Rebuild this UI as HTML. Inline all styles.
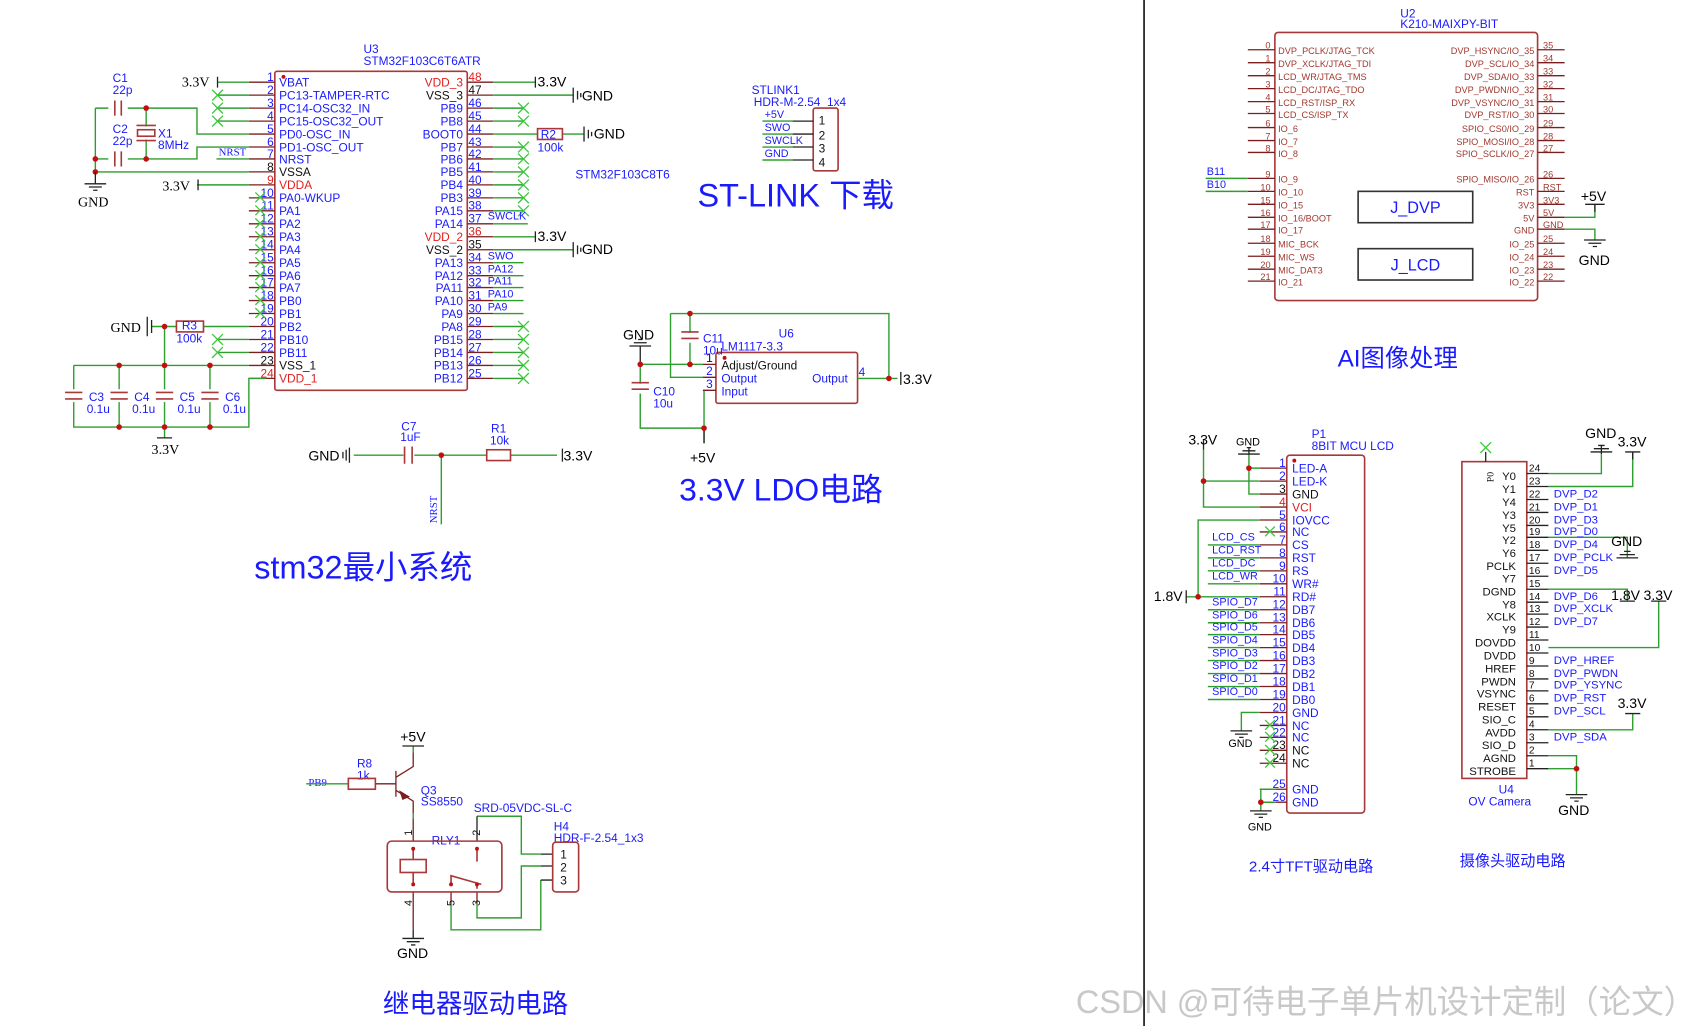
<!DOCTYPE html>
<html><head><meta charset="utf-8"><style>
html,body{margin:0;padding:0;background:#fff;}
svg{display:block;}
text{font-family:"Liberation Sans","Noto Sans CJK SC",sans-serif;}
.s{font-family:"Liberation Serif","Noto Serif CJK SC",serif;}
.w{stroke:#2e9e2e;stroke-width:1.3;fill:none;}
.p{stroke:#7a1f1f;stroke-width:1.2;fill:none;}
.k{stroke:#222;stroke-width:1.2;fill:none;}
.b{stroke:#a8383a;stroke-width:1.5;fill:none;}
.x{stroke:#3cc83c;stroke-width:1.2;fill:none;}
.n{fill:#1a1aff;font-size:11px;}
.nm{fill:#1a1aff;font-size:11px;}
.r{fill:#e02020;}
.bk{fill:#111;}
.kn{fill:#a0392f;font-size:8.5px;}
.d{fill:#c01010;}
</style></head><body>
<svg width="1687" height="1026" viewBox="0 0 1560 949" xmlns="http://www.w3.org/2000/svg">
<rect width="1560" height="949" fill="#fff"/>
<line x1="1058" y1="0" x2="1058" y2="949" stroke="#111" stroke-width="1.5"/>

<!-- ============ STM32 ============ -->
<text x="336" y="49" class="nm" font-size="10">U3</text>
<text x="336" y="60" class="nm" font-size="10">STM32F103C6T6ATR</text>
<rect x="254" y="66" width="178" height="295" rx="2" class="b"/>
<circle cx="262" cy="71" r="1.8" class="d"/>
<g class="p">
<path d="M230 76H254M230 88H254M230 100H254M230 112H254M230 124H254M230 136H254M230 147H254M230 159H254M230 171H254M230 183H254M230 195H254M230 207H254M230 219H254M230 231H254M230 243H254M230 255H254M230 266H254M230 278H254M230 290H254M230 302H254M230 314H254M230 326H254M230 338H254M230 350H254"/>
<path d="M432 76H456M432 88H456M432 100H456M432 112H456M432 124H456M432 136H456M432 147H456M432 159H456M432 171H456M432 183H456M432 195H456M432 207H456M432 219H456M432 231H456M432 243H456M432 255H456M432 266H456M432 278H456M432 290H456M432 302H456M432 314H456M432 326H456M432 338H456M432 350H456"/>
</g>
<g font-size="11" text-anchor="end">
<text x="253" y="75" class="n">1</text><text x="253" y="87" class="n">2</text><text x="253" y="99" class="n">3</text><text x="253" y="111" class="n">4</text><text x="253" y="123" class="n">5</text><text x="253" y="135" class="n">6</text><text x="253" y="146" class="n">7</text><text x="253" y="158" class="bk">8</text><text x="253" y="170" class="r">9</text><text x="253" y="182" class="n">10</text><text x="253" y="194" class="n">11</text><text x="253" y="206" class="n">12</text><text x="253" y="218" class="n">13</text><text x="253" y="230" class="n">14</text><text x="253" y="242" class="n">15</text><text x="253" y="254" class="n">16</text><text x="253" y="265" class="n">17</text><text x="253" y="277" class="n">18</text><text x="253" y="289" class="n">19</text><text x="253" y="301" class="n">20</text><text x="253" y="313" class="n">21</text><text x="253" y="325" class="n">22</text><text x="253" y="337" class="bk">23</text><text x="253" y="349" class="r">24</text>
</g>
<g font-size="11">
<text x="433" y="75" class="r">48</text><text x="433" y="87" class="bk">47</text><text x="433" y="99" class="n">46</text><text x="433" y="111" class="n">45</text><text x="433" y="123" class="n">44</text><text x="433" y="135" class="n">43</text><text x="433" y="146" class="n">42</text><text x="433" y="158" class="n">41</text><text x="433" y="170" class="n">40</text><text x="433" y="182" class="n">39</text><text x="433" y="194" class="n">38</text><text x="433" y="206" class="n">37</text><text x="433" y="218" class="r">36</text><text x="433" y="230" class="bk">35</text><text x="433" y="242" class="n">34</text><text x="433" y="254" class="n">33</text><text x="433" y="265" class="n">32</text><text x="433" y="277" class="n">31</text><text x="433" y="289" class="n">30</text><text x="433" y="301" class="n">29</text><text x="433" y="313" class="n">28</text><text x="433" y="325" class="n">27</text><text x="433" y="337" class="n">26</text><text x="433" y="349" class="n">25</text>
</g>
<g font-size="11">
<text x="258" y="80" class="n">VBAT</text><text x="258" y="92" class="n">PC13-TAMPER-RTC</text><text x="258" y="104" class="n">PC14-OSC32_IN</text><text x="258" y="116" class="n">PC15-OSC32_OUT</text><text x="258" y="128" class="n">PD0-OSC_IN</text><text x="258" y="140" class="n">PD1-OSC_OUT</text><text x="258" y="151" class="n">NRST</text><text x="258" y="163" class="bk">VSSA</text><text x="258" y="175" class="r">VDDA</text><text x="258" y="187" class="n">PA0-WKUP</text><text x="258" y="199" class="n">PA1</text><text x="258" y="211" class="n">PA2</text><text x="258" y="223" class="n">PA3</text><text x="258" y="235" class="n">PA4</text><text x="258" y="247" class="n">PA5</text><text x="258" y="259" class="n">PA6</text><text x="258" y="270" class="n">PA7</text><text x="258" y="282" class="n">PB0</text><text x="258" y="294" class="n">PB1</text><text x="258" y="306" class="n">PB2</text><text x="258" y="318" class="n">PB10</text><text x="258" y="330" class="n">PB11</text><text x="258" y="342" class="bk">VSS_1</text><text x="258" y="354" class="r">VDD_1</text>
</g>
<g font-size="11" text-anchor="end">
<text x="428" y="80" class="r">VDD_3</text><text x="428" y="92" class="bk">VSS_3</text><text x="428" y="104" class="n">PB9</text><text x="428" y="116" class="n">PB8</text><text x="428" y="128" class="n">BOOT0</text><text x="428" y="140" class="n">PB7</text><text x="428" y="151" class="n">PB6</text><text x="428" y="163" class="n">PB5</text><text x="428" y="175" class="n">PB4</text><text x="428" y="187" class="n">PB3</text><text x="428" y="199" class="n">PA15</text><text x="428" y="211" class="n">PA14</text><text x="428" y="223" class="r">VDD_2</text><text x="428" y="235" class="bk">VSS_2</text><text x="428" y="247" class="n">PA13</text><text x="428" y="259" class="n">PA12</text><text x="428" y="270" class="n">PA11</text><text x="428" y="282" class="n">PA10</text><text x="428" y="294" class="n">PA9</text><text x="428" y="306" class="n">PA8</text><text x="428" y="318" class="n">PB15</text><text x="428" y="330" class="n">PB14</text><text x="428" y="342" class="n">PB13</text><text x="428" y="354" class="n">PB12</text>
</g>
<g class="w">
<path d="M201 76H230M201 88H230M201 100H230M201 112H230"/>
<path d="M88 100H100M118 100H182V124H230M88 147H100M118 147H182V136H230M88 100V159M88 159H230M200 147H230M182 171H230"/>
<path d="M135 100V117M135 129V147"/>
<path d="M140 302H163M188 302H230M152 302V338M201 314H230M201 326H230M68 338H230M68 338V360M68 372V395H230V350H246M110 338V360M110 372V395M152 338V360M152 372V395M194 338V360M194 372V395M152 395V405"/>
</g>
<g class="x"><path d="M196 83l10 10m0-10l-10 10M196 95l10 10m0-10l-10 10M196 107l10 10m0-10l-10 10M196 309l10 10m0-10l-10 10M196 321l10 10m0-10l-10 10"/>
<path d="M236 178l9 9m0-9l-9 9M236 190l9 9m0-9l-9 9M236 202l9 9m0-9l-9 9M236 214l9 9m0-9l-9 9M236 226l9 9m0-9l-9 9M236 238l9 9m0-9l-9 9M236 250l9 9m0-9l-9 9M236 261l9 9m0-9l-9 9M236 273l9 9m0-9l-9 9M236 285l9 9m0-9l-9 9"/></g>
<g class="k"><path d="M201 71V81M183 166V176M140 296V308M136 293V311"/></g>
<text x="168" y="80" class="s" font-size="13">3.3V</text>
<text x="150" y="176" class="s" font-size="13">3.3V</text>
<text x="102" y="307" class="s" font-size="13">GND</text>
<g stroke="#a8383a" stroke-width="1.5" fill="none">
<path d="M106 93V107M112 93V107M106 140V154M112 140V154"/>
<rect x="127" y="120" width="16" height="6"/><path d="M126 116H144M126 130H144"/>
<rect x="163" y="297" width="25" height="10"/>
<path d="M60 363H76M60 369H76M102 363H118M102 369H118M144 363H160M144 369H160M186 363H202M186 369H202"/>
</g>
<g class="d">
<circle cx="135" cy="100" r="2.6"/><circle cx="135" cy="147" r="2.6"/><circle cx="88" cy="147" r="2.6"/><circle cx="88" cy="159" r="2.6"/><circle cx="152" cy="302" r="2.6"/>
<circle cx="110" cy="338" r="2.6"/><circle cx="152" cy="338" r="2.6"/><circle cx="194" cy="338" r="2.6"/><circle cx="110" cy="395" r="2.6"/><circle cx="152" cy="395" r="2.6"/><circle cx="194" cy="395" r="2.6"/>
</g>
<g class="k"><path d="M88 159V170M78 170H98M82 173H94M86 176H90M145 405H159"/></g>
<text x="72" y="191" class="s" font-size="13">GND</text>
<text x="140" y="420" class="s" font-size="13">3.3V</text>
<g class="nm" font-size="10"><text x="104" y="76">C1</text><text x="104" y="87">22p</text><text x="104" y="123">C2</text><text x="104" y="134">22p</text><text x="146" y="127">X1</text><text x="146" y="138">8MHz</text>
<text x="168" y="305">R3</text><text x="163" y="317">100k</text>
<text x="82" y="371">C3</text><text x="80" y="382">0.1u</text><text x="124" y="371">C4</text><text x="122" y="382">0.1u</text><text x="166" y="371">C5</text><text x="164" y="382">0.1u</text><text x="208" y="371">C6</text><text x="206" y="382">0.1u</text></g>
<text x="202" y="144" class="s" fill="#1a1aff" font-size="10">NRST</text>
<g class="w"><path d="M456 76H495M456 88H530M456 100H484M456 112H484M456 124H497M520 124H540M456 136H484M456 147H484M456 159H484M456 171H484M456 183H484M456 195H484M456 207H488M456 219H495M456 231H530M456 243H484M456 255H484M456 266H484M456 278H484M456 290H484M456 302H484M456 314H484M456 326H484M456 338H484M456 350H484"/></g>
<g class="x"><path d="M479 95l10 10m0-10l-10 10M479 107l10 10m0-10l-10 10M479 131l10 10m0-10l-10 10M479 142l10 10m0-10l-10 10M479 154l10 10m0-10l-10 10M479 166l10 10m0-10l-10 10M479 178l10 10m0-10l-10 10M479 190l10 10m0-10l-10 10M479 297l10 10m0-10l-10 10M479 309l10 10m0-10l-10 10M479 321l10 10m0-10l-10 10M479 333l10 10m0-10l-10 10M479 345l10 10m0-10l-10 10"/></g>
<rect x="497" y="119" width="23" height="10" stroke="#a8383a" stroke-width="1.5" fill="none"/>
<g class="k"><path d="M495 71V81M495 214V224M530 81V95M534 84V92M537 86V90M540 117V131M544 120V128M547 122V126M530 224V238M534 227V235M537 229V233"/></g>
<g class="s" font-size="13"><text x="497" y="80">3.3V</text><text x="538" y="93">GND</text><text x="549" y="128">GND</text><text x="497" y="223">3.3V</text><text x="538" y="235">GND</text></g>
<g class="nm" font-size="10"><text x="500" y="128">R2</text><text x="497" y="140">100k</text><text x="532" y="165">STM32F103C8T6</text></g>
<g class="s" fill="#1a1aff" font-size="10"><text x="451" y="203">SWCLK</text><text x="451" y="240">SWO</text><text x="451" y="252">PA12</text><text x="451" y="263">PA11</text><text x="451" y="275">PA10</text><text x="451" y="287">PA9</text></g>
<g class="w"><path d="M327 421H373M383 421H450M472 421H515M408 421V485"/></g>
<g class="k"><path d="M323 414V428M320 416V426M317 418V424M520 415V427"/></g>
<g stroke="#a8383a" stroke-width="1.5" fill="none"><path d="M374 413V429M381 413V429"/><rect x="450" y="416" width="22" height="10"/></g>
<circle cx="408" cy="421" r="2.6" class="d"/>
<g class="s" font-size="13"><text x="285" y="426">GND</text><text x="521" y="426">3.3V</text></g>
<g class="nm" font-size="10"><text x="371" y="398">C7</text><text x="370" y="408">1uF</text><text x="454" y="400">R1</text><text x="453" y="411">10k</text></g>
<text x="0" y="0" class="s" fill="#1a1aff" font-size="10" transform="translate(404,484) rotate(-90)">NRST</text>
<text x="235" y="535" fill="#1a1aff" font-size="30">stm32最小系统</text>

<!-- ============ ST-LINK ============ -->
<g class="nm" font-size="10"><text x="695" y="87">STLINK1</text><text x="697" y="98">HDR-M-2.54_1x4</text></g>
<rect x="752" y="100" width="23" height="58" rx="2" class="b"/>
<g class="w"><path d="M705 112H733M705 124H733M705 136H733M705 148H733"/></g>
<g class="k"><path d="M733 112H752M733 124H752M733 136H752M733 148H752"/></g>
<g class="s" fill="#1a1aff" font-size="10"><text x="707" y="109">+5V</text><text x="707" y="121">SWO</text><text x="707" y="133">SWCLK</text><text x="707" y="145">GND</text></g>
<g font-size="11" class="bk"><text x="757" y="115">1</text><text x="757" y="129">2</text><text x="757" y="141">3</text><text x="757" y="154">4</text></g>
<text x="645" y="191" fill="#1a1aff" font-size="30">ST-LINK 下载</text>

<!-- ============ LDO ============ -->
<rect x="662" y="326" width="131" height="47" rx="2" class="b"/>
<circle cx="670" cy="331" r="1.8" class="d"/>
<g class="w"><path d="M620 290H822V350M620 290V349H650M592 337H650M638 290V308M638 317V337M592 337V355M592 364V396H651M651 361V410M651 361H650M793 350H822H830"/></g>
<g class="p"><path d="M650 337H662M650 349H662M650 361H662"/></g>
<g class="k"><path d="M592 320V337M582 320H602M586 317H598M590 314H594M833 344V356M651 396V410"/></g>
<g stroke="#a8383a" stroke-width="1.5"><path d="M630 307H646M630 313H646M584 354H600M584 360H600"/></g>
<g class="d"><circle cx="638" cy="290" r="2.6"/><circle cx="638" cy="337" r="2.6"/><circle cx="592" cy="337" r="2.6"/><circle cx="651" cy="396" r="2.6"/><circle cx="822" cy="350" r="2.6"/></g>
<g font-size="11"><text x="653" y="335" class="bk">1</text><text x="653" y="347" class="n">2</text><text x="653" y="359" class="n">3</text><text x="794" y="348" class="n">4</text>
<text x="667" y="342" class="bk">Adjust/Ground</text><text x="667" y="354" class="n">Output</text><text x="667" y="366" class="n">Input</text><text x="751" y="354" class="n">Output</text></g>
<g class="nm" font-size="10"><text x="720" y="312">U6</text><text x="667" y="324">LM1117-3.3</text><text x="650" y="317">C11</text><text x="650" y="328">10u</text><text x="604" y="366">C10</text><text x="604" y="377">10u</text></g>
<g class="s" font-size="13"><text x="576" y="314">GND</text><text x="835" y="355">3.3V</text><text x="638" y="428">+5V</text></g>
<text x="628" y="463" fill="#1a1aff" font-size="29.5">3.3V LDO电路</text>

<!-- ============ Relay ============ -->
<g class="nm" font-size="10"><text x="330" y="710">R8</text><text x="330" y="721">1k</text><text x="389" y="735">Q3</text><text x="389" y="745">SS8550</text><text x="438" y="751">SRD-05VDC-SL-C</text><text x="512" y="768">H4</text><text x="512" y="779">HDR-F-2.54_1x3</text><text x="399" y="781">RLY1</text></g>
<text x="285" y="727" class="s" fill="#1a1aff" font-size="10">PB9</text>
<g class="w"><path d="M283 725H322M382 690V696M382 752V757"/>
<path d="M441 755H482V790H500M500 801H482V849H441V835M500 814V860H417V835"/></g>
<g class="k"><path d="M500 790H511M500 801H511M500 814H511M441 755V778"/></g>
<g class="p"><path d="M347 725H366M366 713V737M366 719L382 709V696M366 731L382 741V752M382 757V778M382 825V860M441 825V835M417 825V835"/></g>
<path d="M369 731L379 737L372 740Z" fill="#7a1f1f"/>
<rect x="322" y="720" width="25" height="10" stroke="#a8383a" stroke-width="1.5" fill="none"/>
<rect x="358" y="778" width="106" height="47" rx="4" class="b"/>
<g stroke="#a8383a" stroke-width="1.5" fill="none"><rect x="370" y="795" width="24" height="12"/><path d="M382 785V795M382 807V818M441 785V797M417 818V810L445 818M441 818V822"/></g>
<g class="d"><circle cx="382" cy="785" r="1.8"/><circle cx="382" cy="818" r="1.8"/><circle cx="441" cy="785" r="1.8"/><circle cx="417" cy="818" r="1.8"/><circle cx="441" cy="818" r="1.8"/></g>
<g class="k"><path d="M372 690H392M382 860V868M372 868H392M376 871H388M380 874H384"/></g>
<rect x="511" y="779" width="24" height="46" rx="3" class="b"/>
<g class="bk" font-size="11"><text x="518" y="794">1</text><text x="518" y="806">2</text><text x="518" y="818">3</text></g>
<g class="bk" font-size="10"><text x="0" y="0" transform="translate(381,773) rotate(-90)">1</text><text x="0" y="0" transform="translate(444,773) rotate(-90)">2</text><text x="0" y="0" transform="translate(381,838) rotate(-90)">4</text><text x="0" y="0" transform="translate(420,838) rotate(-90)">5</text><text x="0" y="0" transform="translate(444,838) rotate(-90)">3</text></g>
<g class="s" font-size="13"><text x="370" y="686">+5V</text><text x="367" y="886">GND</text></g>
<text x="354" y="937" fill="#1a1aff" font-size="24.5">继电器驱动电路</text>

<!-- ============ K210 ============ -->
<g class="nm" font-size="10"><text x="1295" y="16">U2</text><text x="1295" y="26">K210-MAIXPY-BIT</text></g>
<rect x="1179" y="30" width="243" height="248" rx="3" class="b"/>
<g class="p" stroke-width="1"><path d="M1154 46H1179M1154 58H1179M1154 70H1179M1154 82H1179M1154 94H1179M1154 105H1179M1154 118H1179M1154 130H1179M1154 141H1179M1154 165H1179M1154 177H1179M1154 189H1179M1154 201H1179M1154 212H1179M1154 225H1179M1154 237H1179M1154 249H1179M1154 260H1179"/>
<path d="M1422 46H1447M1422 58H1447M1422 70H1447M1422 82H1447M1422 94H1447M1422 105H1447M1422 118H1447M1422 130H1447M1422 141H1447M1422 165H1447M1422 177H1447M1422 189H1447M1422 201H1447M1422 212H1447M1422 225H1447M1422 237H1447M1422 249H1447M1422 260H1447"/></g>
<g class="kn" text-anchor="end"><text x="1175" y="45">0</text><text x="1175" y="57">1</text><text x="1175" y="69">2</text><text x="1175" y="81">3</text><text x="1175" y="93">4</text><text x="1175" y="104">5</text><text x="1175" y="117">6</text><text x="1175" y="129">7</text><text x="1175" y="140">8</text><text x="1175" y="164">9</text><text x="1175" y="176">10</text><text x="1175" y="188">15</text><text x="1175" y="200">16</text><text x="1175" y="211">17</text><text x="1175" y="224">18</text><text x="1175" y="236">19</text><text x="1175" y="248">20</text><text x="1175" y="259">21</text></g>
<g class="kn"><text x="1427" y="45">35</text><text x="1427" y="57">34</text><text x="1427" y="69">33</text><text x="1427" y="81">32</text><text x="1427" y="93">31</text><text x="1427" y="104">30</text><text x="1427" y="117">29</text><text x="1427" y="129">28</text><text x="1427" y="140">27</text><text x="1427" y="164">26</text><text x="1427" y="176">RST</text><text x="1427" y="188">3V3</text><text x="1427" y="200">5V</text><text x="1427" y="211">GND</text><text x="1427" y="224">25</text><text x="1427" y="236">24</text><text x="1427" y="248">23</text><text x="1427" y="259">22</text></g>
<g class="kn"><text x="1182" y="50">DVP_PCLK/JTAG_TCK</text><text x="1182" y="62">DVP_XCLK/JTAG_TDI</text><text x="1182" y="74">LCD_WR/JTAG_TMS</text><text x="1182" y="86">LCD_DC/JTAG_TDO</text><text x="1182" y="98">LCD_RST/ISP_RX</text><text x="1182" y="109">LCD_CS/ISP_TX</text><text x="1182" y="122">IO_6</text><text x="1182" y="134">IO_7</text><text x="1182" y="145">IO_8</text><text x="1182" y="169">IO_9</text><text x="1182" y="181">IO_10</text><text x="1182" y="193">IO_15</text><text x="1182" y="205">IO_16/BOOT</text><text x="1182" y="216">IO_17</text><text x="1182" y="229">MIC_BCK</text><text x="1182" y="241">MIC_WS</text><text x="1182" y="253">MIC_DAT3</text><text x="1182" y="264">IO_21</text></g>
<g class="kn" text-anchor="end"><text x="1419" y="50">DVP_HSYNC/IO_35</text><text x="1419" y="62">DVP_SCL/IO_34</text><text x="1419" y="74">DVP_SDA/IO_33</text><text x="1419" y="86">DVP_PWDN/IO_32</text><text x="1419" y="98">DVP_VSYNC/IO_31</text><text x="1419" y="109">DVP_RST/IO_30</text><text x="1419" y="122">SPIO_CS0/IO_29</text><text x="1419" y="134">SPIO_MOSI/IO_28</text><text x="1419" y="145">SPIO_SCLK/IO_27</text><text x="1419" y="169">SPIO_MISO/IO_26</text><text x="1419" y="181">RST</text><text x="1419" y="193">3V3</text><text x="1419" y="205">5V</text><text x="1419" y="216">GND</text><text x="1419" y="229">IO_25</text><text x="1419" y="241">IO_24</text><text x="1419" y="253">IO_23</text><text x="1419" y="264">IO_22</text></g>
<rect x="1256" y="177" width="106" height="29" stroke="#333" stroke-width="1.5" fill="none"/>
<rect x="1256" y="230" width="106" height="29" stroke="#333" stroke-width="1.5" fill="none"/>
<g fill="#1a1aff" font-size="15" text-anchor="middle"><text x="1309" y="197">J_DVP</text><text x="1309" y="250">J_LCD</text></g>
<g class="w"><path d="M1115 165H1154M1115 177H1154M1447 201H1475V189M1447 212H1475V222"/></g>
<g class="k"><path d="M1475 189V196M1466 189H1484M1465 222H1485M1469 225H1481M1473 228H1477"/></g>
<g class="s" fill="#1a1aff" font-size="10"><text x="1116" y="162">B11</text><text x="1116" y="174">B10</text></g>
<g class="s" font-size="13"><text x="1462" y="186">+5V</text><text x="1460" y="245">GND</text></g>
<text x="1237" y="339" fill="#1a1aff" font-size="22.5">AI图像处理</text>

<!-- ============ LCD ============ -->
<g class="nm" font-size="10"><text x="1213" y="405">P1</text><text x="1213" y="416">8BIT MCU LCD</text></g>
<rect x="1190" y="421" width="72" height="331" rx="3" class="b"/>
<circle cx="1197" cy="426" r="1.8" class="d"/>
<g class="p"><path d="M1165 433H1190M1165 445H1190M1165 457H1190M1165 469H1190M1165 481H1190M1165 492H1190M1165 504H1190M1165 516H1190M1165 528H1190M1165 540H1190M1165 552H1190M1165 564H1190M1165 576H1190M1165 587H1190M1165 599H1190M1165 611H1190M1165 623H1190M1165 635H1190M1165 647H1190M1165 659H1190M1165 671H1190M1165 682H1190M1165 694H1190M1165 706H1190M1165 730H1190M1165 742H1190"/></g>
<g font-size="11" text-anchor="end"><text x="1189" y="432" class="n">1</text><text x="1189" y="444" class="n">2</text><text x="1189" y="456" class="bk">3</text><text x="1189" y="468" class="r">4</text><text x="1189" y="480" class="n">5</text><text x="1189" y="491" class="n">6</text><text x="1189" y="503" class="n">7</text><text x="1189" y="515" class="n">8</text><text x="1189" y="527" class="n">9</text><text x="1189" y="539" class="n">10</text><text x="1189" y="551" class="n">11</text><text x="1189" y="563" class="n">12</text><text x="1189" y="575" class="n">13</text><text x="1189" y="586" class="n">14</text><text x="1189" y="598" class="n">15</text><text x="1189" y="610" class="n">16</text><text x="1189" y="622" class="n">17</text><text x="1189" y="634" class="n">18</text><text x="1189" y="646" class="n">19</text><text x="1189" y="658" class="n">20</text><text x="1189" y="670" class="n">21</text><text x="1189" y="681" class="n">22</text><text x="1189" y="693" class="bk">23</text><text x="1189" y="705" class="bk">24</text><text x="1189" y="729" class="n">25</text><text x="1189" y="741" class="n">26</text></g>
<g font-size="11"><text x="1195" y="437" class="n">LED-A</text><text x="1195" y="449" class="n">LED-K</text><text x="1195" y="461" class="bk">GND</text><text x="1195" y="473" class="r">VCI</text><text x="1195" y="485" class="n">IOVCC</text><text x="1195" y="496" class="n">NC</text><text x="1195" y="508" class="n">CS</text><text x="1195" y="520" class="n">RST</text><text x="1195" y="532" class="n">RS</text><text x="1195" y="544" class="n">WR#</text><text x="1195" y="556" class="n">RD#</text><text x="1195" y="568" class="n">DB7</text><text x="1195" y="580" class="n">DB6</text><text x="1195" y="591" class="n">DB5</text><text x="1195" y="603" class="n">DB4</text><text x="1195" y="615" class="n">DB3</text><text x="1195" y="627" class="n">DB2</text><text x="1195" y="639" class="n">DB1</text><text x="1195" y="651" class="n">DB0</text><text x="1195" y="663" class="n">GND</text><text x="1195" y="675" class="n">NC</text><text x="1195" y="686" class="n">NC</text><text x="1195" y="698" class="bk">NC</text><text x="1195" y="710" class="bk">NC</text><text x="1195" y="734" class="n">GND</text><text x="1195" y="746" class="n">GND</text></g>
<g class="w"><path d="M1113 416V469H1165M1113 445H1165M1155 420V457H1165M1155 433H1165M1108 552V481H1165M1097 552H1165M1117 504H1165M1117 516H1165M1117 528H1165M1117 540H1165M1117 564H1165M1117 576H1165M1117 587H1165M1117 599H1165M1117 611H1165M1117 623H1165M1117 635H1165M1117 647H1165M1148 676V659H1165M1166 750V730H1180M1166 742H1180"/></g>
<g class="x"><path d="M1170 487l9 9m0-9l-9 9M1170 666l9 9m0-9l-9 9M1170 677l9 9m0-9l-9 9M1170 689l9 9m0-9l-9 9M1170 701l9 9m0-9l-9 9"/></g>
<g class="d"><circle cx="1113" cy="445" r="2.6"/><circle cx="1155" cy="433" r="2.6"/><circle cx="1108" cy="552" r="2.6"/><circle cx="1166" cy="742" r="2.6"/></g>
<g class="k"><path d="M1113 406V416M1145 420H1165M1149 417H1161M1153 414H1157M1155 414V420M1097 546V558M1138 676H1158M1142 679H1154M1146 682H1150M1156 750H1176M1160 753H1172M1164 756H1168"/></g>
<g class="s" font-size="13"><text x="1099" y="411">3.3V</text><text x="1067" y="556">1.8V</text></g>
<g class="s" font-size="10"><text x="1143" y="412">GND</text><text x="1136" y="691">GND</text><text x="1154" y="768">GND</text></g>
<g class="s" fill="#1a1aff" font-size="10"><text x="1121" y="500">LCD_CS</text><text x="1121" y="512">LCD_RST</text><text x="1121" y="524">LCD_DC</text><text x="1121" y="536">LCD_WR</text><text x="1121" y="560">SPIO_D7</text><text x="1121" y="572">SPIO_D6</text><text x="1121" y="583">SPIO_D5</text><text x="1121" y="595">SPIO_D4</text><text x="1121" y="607">SPIO_D3</text><text x="1121" y="619">SPIO_D2</text><text x="1121" y="631">SPIO_D1</text><text x="1121" y="643">SPIO_D0</text></g>
<text x="1155" y="806" fill="#1a1aff" font-size="14">2.4寸TFT驱动电路</text>

<!-- ============ Camera ============ -->
<rect x="1352" y="427" width="60" height="293" class="b" stroke-width="1.2"/>
<g class="k" stroke-width="1"><path d="M1412 438H1432M1412 450H1432M1412 462H1432M1412 474H1432M1412 486H1432M1412 497H1432M1412 509H1432M1412 521H1432M1412 533H1432M1412 545H1432M1412 557H1432M1412 568H1432M1412 580H1432M1412 592H1432M1412 604H1432M1412 616H1432M1412 628H1432M1412 639H1432M1412 651H1432M1412 663H1432M1412 675H1432M1412 687H1432M1412 699H1432M1412 711H1432"/></g>
<g class="s bk" font-size="9.5"><text x="1414" y="436">24</text><text x="1414" y="448">23</text><text x="1414" y="460">22</text><text x="1414" y="472">21</text><text x="1414" y="484">20</text><text x="1414" y="495">19</text><text x="1414" y="507">18</text><text x="1414" y="519">17</text><text x="1414" y="531">16</text><text x="1414" y="543">15</text><text x="1414" y="555">14</text><text x="1414" y="566">13</text><text x="1414" y="578">12</text><text x="1414" y="590">11</text><text x="1414" y="602">10</text><text x="1414" y="614">9</text><text x="1414" y="626">8</text><text x="1414" y="637">7</text><text x="1414" y="649">6</text><text x="1414" y="661">5</text><text x="1414" y="673">4</text><text x="1414" y="685">3</text><text x="1414" y="697">2</text><text x="1414" y="709">1</text></g>
<g class="s bk" font-size="10.5" text-anchor="end"><text x="1402" y="444">Y0</text><text x="1402" y="456">Y1</text><text x="1402" y="468">Y4</text><text x="1402" y="480">Y3</text><text x="1402" y="492">Y5</text><text x="1402" y="503">Y2</text><text x="1402" y="515">Y6</text><text x="1402" y="527">PCLK</text><text x="1402" y="539">Y7</text><text x="1402" y="551">DGND</text><text x="1402" y="563">Y8</text><text x="1402" y="574">XCLK</text><text x="1402" y="586">Y9</text><text x="1402" y="598">DOVDD</text><text x="1402" y="610">DVDD</text><text x="1402" y="622">HREF</text><text x="1402" y="634">PWDN</text><text x="1402" y="645">VSYNC</text><text x="1402" y="657">RESET</text><text x="1402" y="669">SIO_C</text><text x="1402" y="681">AVDD</text><text x="1402" y="693">SIO_D</text><text x="1402" y="705">AGND</text><text x="1402" y="717">STROBE</text></g>
<text x="0" y="0" class="s bk" font-size="9" transform="translate(1381,446) rotate(-90)">P0</text>
<g class="w"><path d="M1432 438H1481V420M1432 450H1510V418M1432 497H1505V516M1432 545H1505V556M1432 599H1534V556M1432 675H1510V660M1432 699H1458V735M1432 711H1458"/></g>
<g class="k"><path d="M1374 418V427M1471 418H1491M1474 415H1488M1478 412H1484M1481 412V420M1503 418H1517M1510 418V425M1495 516H1515M1498 513H1512M1502 510H1508M1498 556H1512M1527 556H1541M1503 660H1517M1448 735H1468M1452 738H1464M1456 741H1460"/></g>
<g class="x"><path d="M1369 409l10 10m0-10l-10 10"/></g>
<circle cx="1458" cy="711" r="2.6" class="d"/>
<g class="s" font-size="13"><text x="1466" y="405">GND</text><text x="1496" y="413">3.3V</text><text x="1490" y="505">GND</text><text x="1490" y="555">1.8V</text><text x="1520" y="555">3.3V</text><text x="1496" y="655">3.3V</text><text x="1441" y="754">GND</text></g>
<g class="s" fill="#1a1aff" font-size="10.5"><text x="1437" y="460">DVP_D2</text><text x="1437" y="472">DVP_D1</text><text x="1437" y="484">DVP_D3</text><text x="1437" y="495">DVP_D0</text><text x="1437" y="507">DVP_D4</text><text x="1437" y="519">DVP_PCLK</text><text x="1437" y="531">DVP_D5</text><text x="1437" y="555">DVP_D6</text><text x="1437" y="566">DVP_XCLK</text><text x="1437" y="578">DVP_D7</text><text x="1437" y="614">DVP_HREF</text><text x="1437" y="626">DVP_PWDN</text><text x="1437" y="637">DVP_YSYNC</text><text x="1437" y="649">DVP_RST</text><text x="1437" y="661">DVP_SCL</text><text x="1437" y="685">DVP_SDA</text></g>
<g class="nm" font-size="10"><text x="1386" y="734">U4</text><text x="1358" y="745">OV Camera</text></g>
<text x="1350" y="801" fill="#1a1aff" font-size="14">摄像头驱动电路</text>

<text x="995" y="937" fill="#c8c8c8" font-size="30">CSDN @可待电子单片机设计定制（论文）</text>
</svg>
</body></html>
